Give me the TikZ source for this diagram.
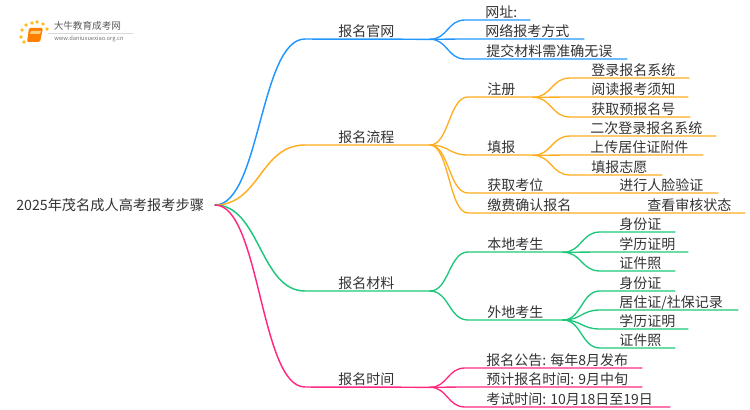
\documentclass[tikz,border=0pt]{standalone}
\usepackage{fontspec}
\usetikzlibrary{calc}
\setmainfont{Noto Sans CJK SC}
\definecolor{bluebr}{HTML}{2196FF}
\definecolor{orangebr}{HTML}{FFAE21}
\definecolor{greenbr}{HTML}{1CC77A}
\definecolor{pinkbr}{HTML}{FF2A7F}
\definecolor{inktext}{HTML}{333333}
\tikzset{
	lab/.style={anchor=base west,inner sep=0pt,text=inktext,font=\fontsize{10.5pt}{12pt}\selectfont},
	br/.style={line width=1.1pt,line cap=round},
	curve/.style={to path={.. controls ($(\tikztostart)!.5!(\tikztotarget |- \tikztostart)$) and ($(\tikztotarget)!.5!(\tikztostart |- \tikztotarget)$) .. (\tikztotarget)}}
}
\begin{document}
\begin{tikzpicture}[x=0.75pt,y=-0.75pt]
		\useasboundingbox (0,0) rectangle (750,410);
		\path
		(215,205) coordinate (R)
		(430,39.3) coordinate (A)
		(430,145) coordinate (B)
		(430,291) coordinate (C)
		(430,387.3) coordinate (D)
		(533,97.3) coordinate (B1)
		(533,155.3) coordinate (B2)
		(563,252.3) coordinate (C1)
		(563,320) coordinate (C2);
		\node[lab,font=\fontsize{10.65pt}{12pt}\selectfont] (root) at (16,210) {2025年茂名成人高考报考步骤};
		% main branches
		\foreach \c/\p/\x/\q/\t in {bluebr/A/305/39/报名官网,orangebr/B/305/145/报名流程,greenbr/C/305/291/报名材料,pinkbr/D/305/387/报名时间}{
			\coordinate (s\p) at (\x,\q);
			\draw[br,\c] (R) to[curve] (s\p) -- (\p);
			\node[lab] (t\p) at (338,\q-2.3) {\t};
		}
		% second level
		\foreach \c/\p/\n/\x/\q/\e/\l/\t in {
			bluebr/A/a/465/20/530/485/网址:,
			bluebr/A/b/465/39/584/485/网络报考方式,
			bluebr/A/c/465/59/627/486/提交材料需准确无误,
			orangebr/B/a/468/97/533/487/注册,
			orangebr/B/b/468/155/533/487/填报,
			orangebr/B/c/468/193/718/487/获取考位,
			orangebr/B/d/468/213/745/487/缴费确认报名,
			greenbr/C/a/468/252/563/487/本地考生,
			greenbr/C/b/468/320/563/487/外地考生,
			pinkbr/D/a/465/368/642/486/报名公告: 每年8月发布,
			pinkbr/D/b/465/387/642/486/预计报名时间: 9月中旬,
			pinkbr/D/c/465/407/670/486/考试时间: 10月18日至19日}{
			\coordinate (s\p\n) at (\x,\q);
			\coordinate (e\p\n) at (\e,\q);
			\draw[br,\c,line width=1pt] (\p) to[curve] (s\p\n) -- (e\p\n);
			\node[lab] (t\p\n) at (\l,\q-2.3) {\t};
		}
		% third level
		\foreach \c/\p/\n/\x/\q/\e/\l/\t in {
			orangebr/B1/a/570/78/689/591/登录报名系统,
			orangebr/B1/b/570/97/688/591/阅读报考须知,
			orangebr/B1/c/570/117/690/591/获取预报名号,
			orangebr/B2/a/570/136/716/590/二次登录报名系统,
			orangebr/B2/b/570/155/703/590/上传居住证附件,
			orangebr/B2/c/570/175/662/591/填报志愿,
			greenbr/C1/a/600/232/675/619/身份证,
			greenbr/C1/b/600/252/688/619/学历证明,
			greenbr/C1/c/600/271/675/619/证件照,
			greenbr/C2/a/600/291/675/619/身份证,
			greenbr/C2/b/600/310/738/619/{居住证/社保记录},
			greenbr/C2/c/600/329/688/619/学历证明,
			greenbr/C2/d/600/348/675/619/证件照}{
			\coordinate (s\p\n) at (\x,\q);
			\coordinate (e\p\n) at (\e,\q);
			\draw[br,\c,line width=1pt] (\p) to[curve] (s\p\n) -- (e\p\n);
			\node[lab] (t\p\n) at (\l,\q-2.3) {\t};
		}
		% two leaves on straight ends
		\node[lab] (tv) at (619,190.7) {进行人脸验证};
		\node[lab] (tw) at (647,210.7) {查看审核状态};
		% logo
		\foreach \p in {(22,30),(21,37),(24,42),(26,25),(32,23),(37,22),(43,24),(47,29)}
		\fill[orangebr!80!yellow] \p circle (1.8);
		\fill[orange,rounded corners=1pt] (29,28) -- (43,28) -- (40,42) -- (27,42) -- cycle;
		\fill[orangebr!60!white] (31,31) -- (41,31) -- (40,34) -- (30,34) -- cycle;
		\node[lab,text=black!65,font=\fontsize{7.2pt}{8pt}\selectfont] (logo) at (53.5,30) {大牛教育成考网};
		\draw[black!15,line width=0.4pt] (48,33) -- (133,33);
		\node[lab,text=black!55,font=\fontsize{4.3pt}{5pt}\selectfont] (url) at (54,41) {www.daniuxuexiao.org.cn};
	\end{tikzpicture}
\end{document}
